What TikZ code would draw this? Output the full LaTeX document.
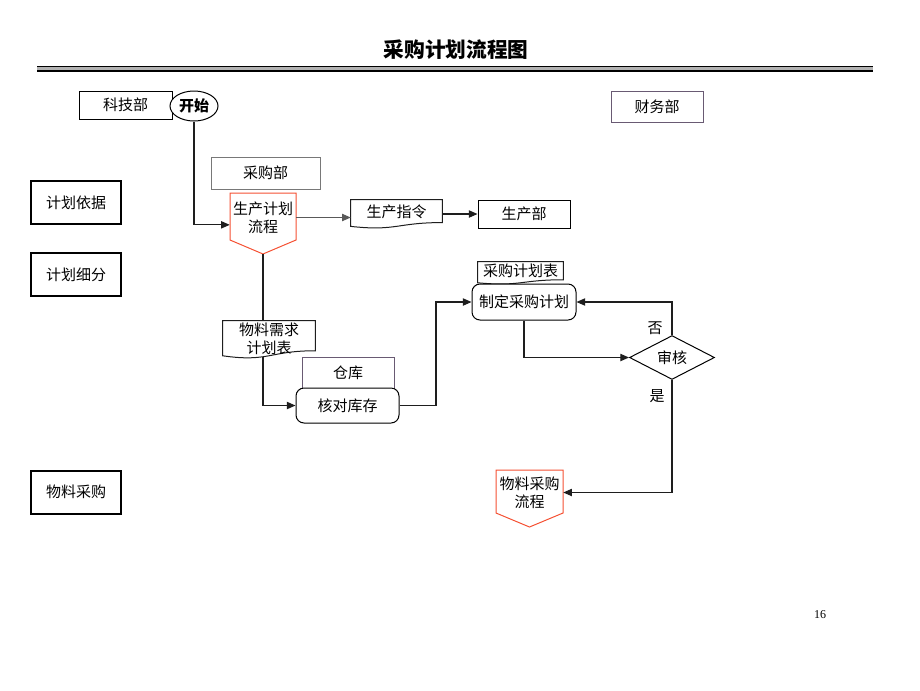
\documentclass[tikz,border=0pt]{standalone}
\usepackage{fontspec}
\setmainfont{Noto Sans CJK SC}
\newfontfamily\serifnum{Liberation Serif}
\usetikzlibrary{arrows.meta,calc,shapes.geometric}
\definecolor{offred}{RGB}{245,80,50}
\definecolor{boxgray}{RGB}{120,120,120}
\definecolor{purplegray}{RGB}{105,90,115}
\definecolor{lnc}{RGB}{30,30,30}
\newcommand\docshape[1]{%
  \draw[lnc,line width=0.75pt] (#1.north west) -- (#1.north east) -- ($(#1.north east)!0.80!(#1.south east)$)
   .. controls ($(#1.north)!0.80!(#1.south)$) and ($(#1.north)!1.11!(#1.south)$) ..
   ($(#1.north west)!0.934!(#1.south west)$) -- cycle;}
\newcommand\offpage[2]{%
  \draw[offred,line width=0.75pt] (#1.north west) -- (#1.north east) -- (#1.south east) -- (#2) -- (#1.south west) -- cycle;}
\begin{document}
\begin{tikzpicture}[x=0.75pt,y=-0.75pt,
  every node/.style={font=\fontsize{11.25}{13.5}\selectfont, inner sep=0pt, align=center},
  sidebox/.style={draw=black, line width=1.5pt, minimum width=67.5pt, minimum height=32.25pt},
  plainbox/.style={draw=black, line width=0.75pt},
  graybox/.style={draw=boxgray, line width=0.75pt},
  purplebox/.style={draw=purplegray, line width=0.75pt},
  roundbox/.style={draw=black, line width=0.75pt, rounded corners=6pt},
  conn/.style={draw=lnc, line width=0.8pt},
  arr/.style={conn, -{Triangle[length=6.5pt,width=5.5pt]}},
]
\useasboundingbox (0,0) rectangle (920,690);

% title and rule
\node (title) at (456,50) {\fontsize{15.5}{18}\selectfont\bfseries 采购计划流程图};
\fill[gray!60] (37,66) rectangle (873,71);
\draw[black,line width=1.1pt] (37,66.3) -- (873,66.3);
\draw[black,line width=1.5pt] (37,70.7) -- (873,70.7);

% left column
\node[sidebox] (basis) at (76,202.5) {计划依据};
\node[sidebox] (split) at (76,274.5) {计划细分};
\node[sidebox] (buy) at (76,492) {物料采购};

% departments
\node[plainbox, minimum width=69.75pt, minimum height=21pt] (tech) at (125.5,105) {科技部};
\node[draw=black, fill=white, line width=0.75pt, ellipse, minimum width=36pt, minimum height=22.5pt] (start) at (194,106) {\bfseries 开始};
\node[purplebox, minimum width=69pt, minimum height=23.25pt] (fin) at (657,106.5) {财务部};
\node[graybox, minimum width=81.75pt, minimum height=24pt] (purch) at (265.5,173) {采购部};

% production plan flow (off-page)
\node[minimum width=49.5pt, minimum height=35.25pt] (p1) at (263,217.5) {生产计划\\流程};
\coordinate (p1tip) at (263,254);
\draw[offred,line width=0.75pt] (230,193) -- (296,193) -- (296,240) -- (p1tip) -- (230,240) -- cycle;

% production order document
\node[minimum width=68.25pt, minimum height=21pt] (order) at (396.5,214) {};
\docshape{order}
\node (ordertxt) at (396.5,212) {生产指令};
\node[plainbox, minimum width=69pt, minimum height=21pt] (prod) at (524,214) {生产部};

% material requirement doc
\node[minimum width=69pt, minimum height=27.75pt] (mreq) at (269,339.5) {};
\docshape{mreq}
\node (mreqtxt) at (269,339) {物料需求\\计划表};

% warehouse / check stock
\node[purplebox, minimum width=69pt, minimum height=23.25pt] (wh) at (348,372.5) {仓库};
\node[roundbox, fill=white, minimum width=77.25pt, minimum height=26.25pt] (check) at (347.5,405.5) {核对库存};

% purchase plan
\node[minimum width=63.75pt, minimum height=16.5pt] (ptab) at (520.5,273) {};
\docshape{ptab}
\node (ptabtxt) at (520.5,271) {采购计划表};
\node[roundbox, fill=white, minimum width=78pt, minimum height=27pt] (plan) at (524,302) {制定采购计划};

% audit
\node[draw=black, line width=0.75pt, diamond, minimum width=63.75pt, minimum height=30.75pt] (audit) at (672,357.5) {审核};

% material purchase flow (off-page)
\node[minimum width=50.25pt, minimum height=32.25pt] (p2) at (529.5,492.5) {物料采购\\流程};
\coordinate (p2tip) at (529.5,527);
\draw[offred,line width=0.75pt] (496,470) -- (563,470) -- (563,513) -- (p2tip) -- (496,513) -- cycle;

% connectors
\draw[arr] (start.south) |- ([yshift=-5.5pt]p1.west);
\draw[arr, draw=gray!70!black] (p1.east) -- (p1.east -| order.west);
\draw[arr] (order.east) -- (prod.west);
\draw[conn] (p1tip) -- (p1tip |- mreq.north);
\draw[arr] ($(p1tip |- mreq.south)+(0,-1)$) |- (check.west);
\coordinate (jn) at (436,405.5);
\draw[arr] (check.east) -- (jn) |- (plan.west);
\draw[arr] (plan.south) |- (audit.west);
\draw[arr] (audit.north) |- (plan.east);
\draw[arr] (audit.south) |- (p2.east);
\node (no) at (655,328) {否};
\node (yes) at (657,396) {是};

% page number
\node (pg) at (820,615) {\serifnum\fontsize{9}{10}\selectfont 16};
\end{tikzpicture}
\end{document}
